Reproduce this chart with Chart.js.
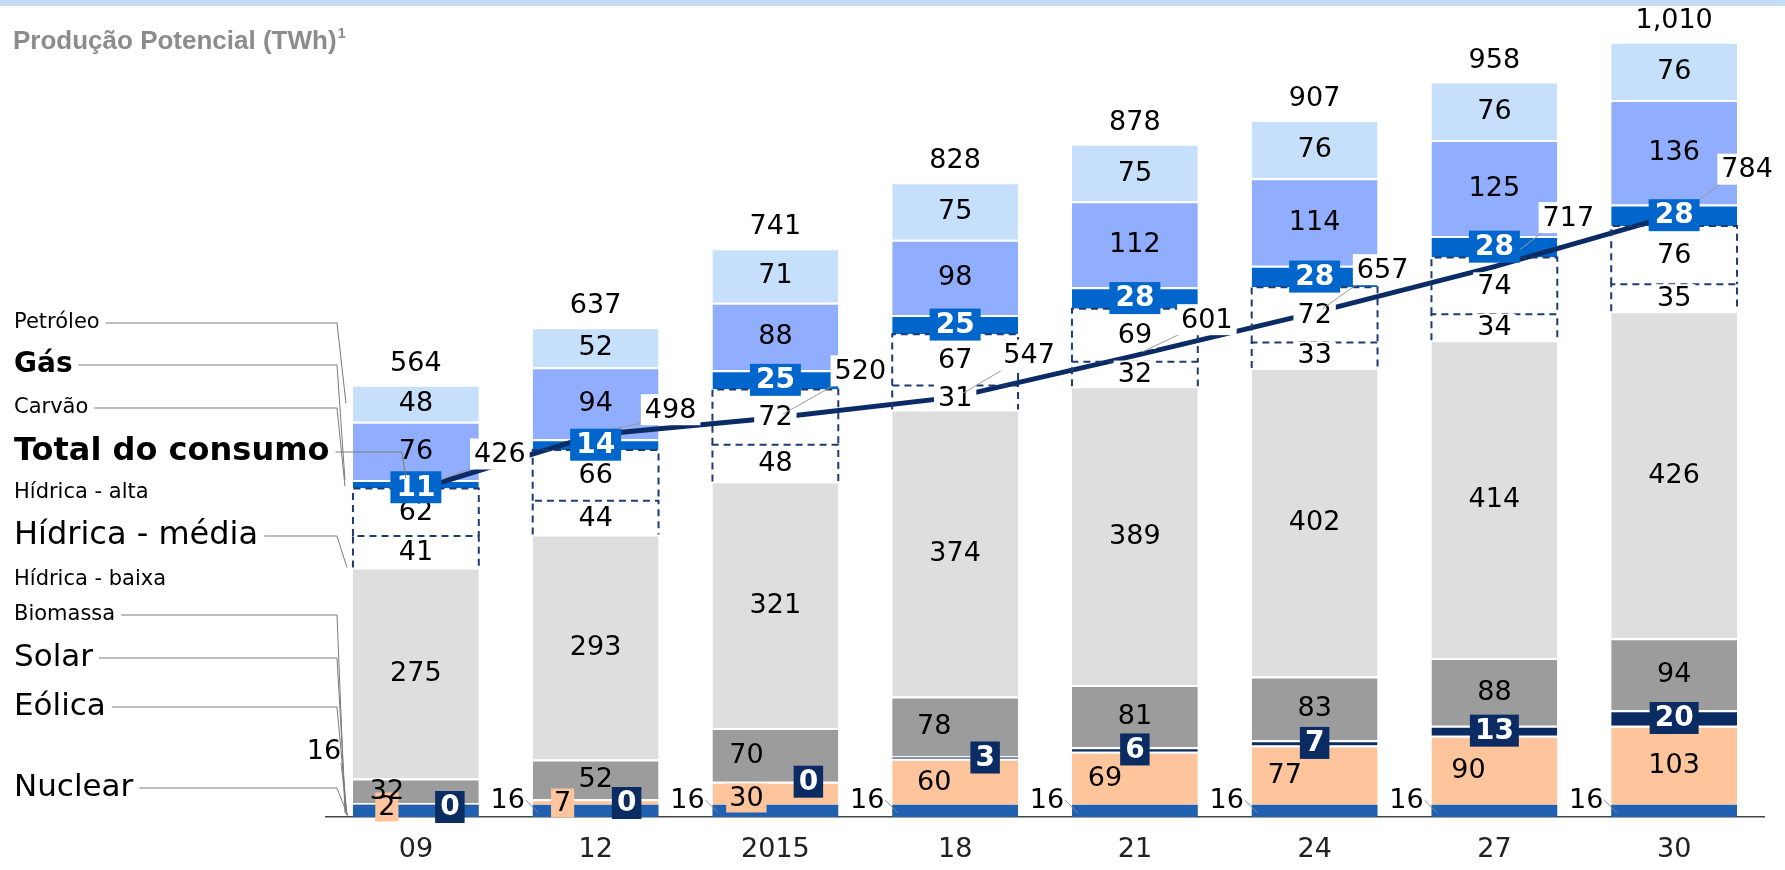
<!DOCTYPE html>
<html lang="pt">
<head>
    <meta charset="UTF-8">
    <title>Produção Potencial</title>
    <script src="https://cdn.jsdelivr.net/npm/chart.js"></script>
    <style>
        body { margin: 0; background: #fff; }
        .chart-box { position: relative; width: 1785px; height: 870px; }
        .top-band { position: absolute; left: 0; top: 0; width: 1785px; height: 6px; background: #c6dcf6; }
    </style>
</head>
<body>
<div class="chart-box">
    <canvas id="producaoChart"></canvas>
    <div class="top-band"></div>
</div>
<script>
    // dados (TWh)
    const categories = ['09', '12', '2015', '18', '21', '24', '27', '30'];
    const nuclear = [16, 16, 16, 16, 16, 16, 16, 16];
    const eolica = [2, 7, 30, 60, 69, 77, 90, 103];
    const solar = [0, 0, 0, 3, 6, 7, 13, 20];
    const biomassa = [32, 52, 70, 78, 81, 83, 88, 94];
    const hidricaBaixa = [275, 293, 321, 374, 389, 402, 414, 426];
    const hidricaMedia = [41, 44, 48, 31, 32, 33, 34, 35];
    const hidricaAlta = [62, 66, 72, 67, 69, 72, 74, 76];
    const carvao = [11, 14, 25, 25, 28, 28, 28, 28];
    const gas = [76, 94, 88, 98, 112, 114, 125, 136];
    const petroleo = [48, 52, 71, 75, 75, 76, 76, 76];
    const totais = [564, 637, 741, 828, 878, 907, 958, 1010];
    const consumo = [426, 498, 520, 547, 601, 657, 717, 784];

    const FONT = "'DejaVu Sans', Verdana, sans-serif";
    const sep = { top: 2, bottom: 0, left: 0, right: 0 };

    function barSet(label, data, color, extra) {
        return Object.assign({
            type: 'bar', label: label, data: data, backgroundColor: color,
            borderColor: '#ffffff', borderWidth: sep, borderSkipped: false,
            stack: 'prod', order: 1
        }, extra || {});
    }

    const datasets = [
        barSet('Nuclear', nuclear, '#2060b0', { borderWidth: 0 }),
        barSet('Eólica', eolica, '#fec49b'),
        barSet('Solar', solar, '#0b2c63'),
        barSet('Biomassa', biomassa, '#9c9c9c'),
        barSet('Hídrica - baixa', hidricaBaixa, '#dedede'),
        barSet('Hídrica - média', hidricaMedia, '#ffffff', { borderWidth: 0 }),
        barSet('Hídrica - alta', hidricaAlta, '#ffffff', { borderWidth: 0 }),
        barSet('Carvão', carvao, '#0066cc'),
        barSet('Gás', gas, '#91adfd'),
        barSet('Petróleo', petroleo, '#c6dffa'),
        {
            type: 'line', label: 'Total do consumo', data: consumo,
            borderColor: '#0a2b66', borderWidth: 5, pointRadius: 0,
            tension: 0, fill: false, stack: 'consumo', order: 0
        }
    ];

    // deslocamentos dos rótulos (px)
    const eolicaDx = [-29, -33, -29, -21, -30, -30, -26, 0];
    const solarDx = [34, 31, 33, 30, 0, 0, 0, 0];
    const biomassaDx = [-29, 0, -29, -21, 0, 0, 0, 0];
    const consumoDx = [84, 75, 85, 74, 72, 68, 74, 73];
    const consumoDy = [36, 25, 47, 42, 36, 43, 49, 46];

    function boxText(ctx, text, x, y, font, color, bg, padX, padY) {
        ctx.font = font;
        if (bg) {
            const w = ctx.measureText(text).width + padX * 2;
            const h = parseInt(font.match(/(\d+)px/)[1]) + padY * 2;
            ctx.fillStyle = bg;
            ctx.fillRect(x - w / 2, y - h / 2, w, h);
        }
        ctx.fillStyle = color;
        ctx.textAlign = 'center';
        ctx.textBaseline = 'middle';
        ctx.fillText(text, x, y + 1);
    }

    const labelsPlugin = {
        id: 'labelsPlugin',
        afterDatasetsDraw(chart) {
            const ctx = chart.ctx;
            const el = (d, i) => chart.getDatasetMeta(d).data[i].getProps(['x', 'y', 'base', 'width'], true);
            const normal = '27px ' + FONT;
            const bold = 'bold 28px ' + FONT;
            ctx.save();

            // contorno tracejado das hídricas média/alta
            ctx.strokeStyle = '#1d3b70';
            ctx.lineWidth = 2;
            ctx.setLineDash([7, 5]);
            [5, 6].forEach(d => {
                categories.forEach((c, i) => {
                    const b = el(d, i);
                    const l = b.x - b.width / 2, r = b.x + b.width / 2;
                    ctx.beginPath();
                    ctx.moveTo(l, b.base); ctx.lineTo(l, b.y); ctx.lineTo(r, b.y); ctx.lineTo(r, b.base);
                    ctx.stroke();
                });
            });
            ctx.setLineDash([]);

            categories.forEach((c, i) => {
                const mid = d => { const b = el(d, i); return { x: b.x, y: (b.y + b.base) / 2, b: b }; };
                let p;
                // nuclear 16, à esquerda
                const nb = el(0, i);
                const nl = nb.x - nb.width / 2;
                ctx.strokeStyle = '#8a8a8a'; ctx.lineWidth = 1;
                if (i === 0) {
                    boxText(ctx, String(nuclear[i]), nl - 29, nb.base - 66, normal, '#000');
                    ctx.beginPath(); ctx.moveTo(nl - 12, nb.base - 54); ctx.lineTo(nl - 6, nb.base - 2); ctx.stroke();
                } else {
                    boxText(ctx, String(nuclear[i]), nb.x - 88, nb.base - 17, normal, '#000');
                    ctx.beginPath(); ctx.moveTo(nb.x - 70, nb.base - 17); ctx.lineTo(nl + 6, nb.base - 4); ctx.stroke();
                }
                p = mid(1);
                const ey = i === 0 ? nb.base - 10 : i === 1 ? nb.base - 14 : i === 2 ? nb.base - 19 : p.y;
                boxText(ctx, String(eolica[i]), p.x + eolicaDx[i], ey, normal, '#000', '#fec49b', 3, 1);
                p = mid(3);
                boxText(ctx, String(biomassa[i]), p.x + biomassaDx[i], i === 0 ? nb.base - 26 : p.y, normal, '#000');
                p = mid(2);
                const sy = i === 0 ? nb.base - 10 : i === 1 ? nb.base - 14 : p.y;
                boxText(ctx, String(solar[i]), p.x + solarDx[i], sy, bold, '#fff', '#0b2c63', 5, 2);
                p = mid(4);
                boxText(ctx, String(hidricaBaixa[i]), p.x, p.y, normal, '#000');
                p = mid(5);
                boxText(ctx, String(hidricaMedia[i]), p.x, p.y, normal, '#000', '#fff', 4, 0);
                p = mid(6);
                boxText(ctx, String(hidricaAlta[i]), p.x, p.y, normal, '#000', '#fff', 4, 0);
                p = mid(8);
                boxText(ctx, String(gas[i]), p.x, p.y, normal, '#000');
                p = mid(9);
                boxText(ctx, String(petroleo[i]), p.x, p.y, normal, '#000');
                const topY = p.b.y;
                boxText(ctx, totais[i].toLocaleString('en-US'), p.x, topY - 22, normal, '#000');
            });

            // rótulos da linha de consumo
            const lm = chart.getDatasetMeta(10);
            lm.data.forEach((pt, i) => {
                const lx = pt.x + consumoDx[i], ly = pt.y - consumoDy[i];
                ctx.strokeStyle = '#9a9a9a'; ctx.lineWidth = 1;
                ctx.beginPath(); ctx.moveTo(pt.x + 8, pt.y - 4); ctx.lineTo(lx - 22, ly + 12); ctx.stroke();
                boxText(ctx, String(consumo[i]), lx, ly, normal, '#000', '#fff', 4, 2);
            });

            // carvão por cima da linha
            categories.forEach((c, i) => {
                const b = el(7, i);
                boxText(ctx, String(carvao[i]), b.x, (b.y + b.base) / 2 + (i === 0 ? 3 : 0), bold, '#fff', '#0066cc', 6, 2);
            });

            // legenda à esquerda
            const b0 = i => el(i, 0);
            const left0 = b0(0).x - b0(0).width / 2;
            const bottom0 = b0(0).base;
            const items = [
                ['Petróleo', 323, 21, false, [left0 - 7, (b0(9).y + b0(9).base) / 2]],
                ['Gás', 365, 28, true, [left0 - 8, b0(8).base]],
                ['Carvão', 408, 21, false, [left0 - 8, (b0(7).y + b0(7).base) / 2 + 2]],
                ['Total do consumo', 452, 32, true, null],
                ['Hídrica - alta', 493, 21, false, null],
                ['Hídrica - média', 536, 32, false, [left0 - 6, b0(5).base]],
                ['Hídrica - baixa', 580, 21, false, null],
                ['Biomassa', 615, 21, false, [left0 - 8, bottom0 - 4]],
                ['Solar', 658, 31, false, [left0 - 7, bottom0 - 3]],
                ['Eólica', 707, 31, false, [left0 - 6, bottom0 - 2]],
                ['Nuclear', 788, 31, false, [left0 - 5, bottom0 - 1]]
            ];
            items.forEach(it => {
                ctx.font = (it[3] ? 'bold ' : '') + it[2] + 'px ' + FONT;
                ctx.fillStyle = '#000';
                ctx.textAlign = 'left';
                ctx.textBaseline = 'middle';
                ctx.fillText(it[0], 14, it[1]);
                const w = ctx.measureText(it[0]).width;
                ctx.strokeStyle = '#7a7a7a'; ctx.lineWidth = 1;
                if (it[4]) {
                    ctx.beginPath();
                    ctx.moveTo(14 + w + 6, it[1]); ctx.lineTo(337, it[1]); ctx.lineTo(it[4][0], it[4][1]);
                    ctx.stroke();
                } else if (it[0] === 'Total do consumo') {
                    const pt = lm.data[0];
                    ctx.beginPath();
                    ctx.moveTo(14 + w + 6, it[1]); ctx.lineTo(pt.x - 14, it[1]); ctx.lineTo(pt.x - 10, pt.y - 12);
                    ctx.stroke();
                }
            });

            // título
            ctx.font = "bold 26px 'Liberation Sans', Arial, sans-serif";
            ctx.fillStyle = '#8c8c8c';
            ctx.textAlign = 'left';
            ctx.textBaseline = 'alphabetic';
            ctx.fillText('Produção Potencial (TWh)', 13, 49);
            const tw = ctx.measureText('Produção Potencial (TWh)').width;
            ctx.font = "bold 15px 'Liberation Sans', Arial, sans-serif";
            ctx.fillText('1', 13 + tw + 1, 38);
            ctx.restore();
        }
    };

    new Chart(document.getElementById('producaoChart'), {
        data: { labels: categories, datasets: datasets },
        options: {
            responsive: true,
            maintainAspectRatio: false,
            animation: false,
            layout: { padding: { left: 326, right: 21, top: 11, bottom: -12 } },
            barPercentage: 0.7,
            categoryPercentage: 1,
            plugins: { legend: { display: false }, tooltip: { enabled: false } },
            scales: {
                x: {
                    stacked: true,
                    grid: { display: false, drawTicks: false },
                    border: { display: true, color: '#444', width: 1.5 },
                    ticks: { color: '#222', font: { size: 27, family: FONT, lineHeight: 1.0 }, padding: 19 }
                },
                y: { stacked: true, display: false, min: 0, max: 1050 }
            }
        },
        plugins: [labelsPlugin]
    });
</script>
</body>
</html>
